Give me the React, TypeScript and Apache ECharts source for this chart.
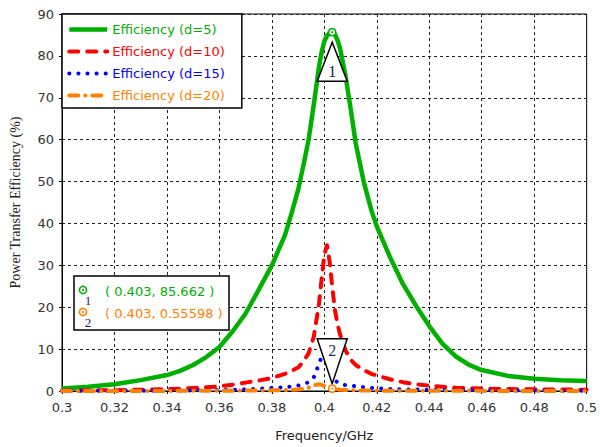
import React, { useEffect, useRef } from "react";
import * as echarts from "echarts";

const freq = [0.3, 0.31, 0.32, 0.33, 0.34, 0.345, 0.35, 0.355, 0.36, 0.365, 0.37, 0.375, 0.38, 0.385, 0.3875, 0.39, 0.392, 0.394, 0.396, 0.398, 0.399, 0.4, 0.401, 0.402, 0.403, 0.404, 0.405, 0.406, 0.408, 0.41, 0.412, 0.415, 0.418, 0.42, 0.425, 0.43, 0.435, 0.44, 0.445, 0.45, 0.455, 0.46, 0.47, 0.48, 0.49, 0.5];
const effD5 = [0.6, 1.0, 1.6, 2.6, 3.8, 4.8, 6.2, 8.1, 10.5, 14.2, 18.5, 24.2, 30, 37.2, 42.4, 48, 53.8, 60, 68.5, 77.5, 81, 83.5, 84.8, 85.5, 85.66, 85.2, 83.8, 81.8, 75.5, 67.5, 59, 50, 43, 39.3, 32, 25.5, 20.3, 15.5, 11.3, 8.3, 6.3, 5.0, 3.6, 2.9, 2.55, 2.4];
const effD10 = [0.1, 0.15, 0.2, 0.3, 0.45, 0.55, 0.7, 0.9, 1.1, 1.5, 2.0, 2.5, 3.1, 4.1, 4.8, 5.6, 7.0, 9, 13, 21, 27, 32.5, 34.8, 31, 25, 19.5, 16, 13.5, 9.8, 7.5, 6.2, 5.0, 4.1, 3.7, 2.8, 2.1, 1.6, 1.3, 1.0, 0.8, 0.7, 0.6, 0.45, 0.4, 0.35, 0.3];
const effD15 = [0.03, 0.04, 0.05, 0.07, 0.1, 0.12, 0.15, 0.2, 0.25, 0.3, 0.4, 0.55, 0.7, 0.9, 1.1, 1.3, 1.6, 2.1, 3.3, 6.5, 8.2, 8.6, 7.5, 5.2, 3.5, 2.6, 2.1, 1.8, 1.4, 1.25, 1.15, 0.9, 0.75, 0.65, 0.5, 0.4, 0.35, 0.3, 0.26, 0.22, 0.19, 0.17, 0.13, 0.1, 0.08, 0.07];
const effD20 = [0.01, 0.01, 0.02, 0.02, 0.03, 0.035, 0.04, 0.05, 0.06, 0.08, 0.1, 0.12, 0.15, 0.2, 0.27, 0.35, 0.5, 0.8, 1.4, 1.6, 1.45, 1.2, 0.9, 0.7, 0.556, 0.45, 0.37, 0.3, 0.25, 0.2, 0.16, 0.12, 0.1, 0.09, 0.07, 0.06, 0.05, 0.04, 0.035, 0.03, 0.03, 0.03, 0.02, 0.02, 0.02, 0.02];

const seriesNames = ["Efficiency (d=5)", "Efficiency (d=10)", "Efficiency (d=15)", "Efficiency (d=20)"];
const seriesColors = ["#00b000", "#ff0000", "#0000ff", "#ff8000"];

const marker1 = [0.403, 85.662];
const marker2 = [0.403, 0.55598];
const markerTexts = ["( 0.403, 85.662 )", "( 0.403, 0.55598 )"];

const xMin = 0.3, xMax = 0.5, xStep = 0.02;
const yMin = 0, yMax = 90, yStep = 10;

const SANS = "'DejaVu Sans', Verdana, sans-serif";
const SERIF = "'Liberation Serif', 'Times New Roman', serif";

export default function App() {
  const ref = useRef<HTMLDivElement>(null);
  useEffect(() => {
    const chart = echarts.init(ref.current!, null, { renderer: "svg" });
    const allData = [effD5, effD10, effD15, effD20];
    const styles: any[] = [
      { width: 4.5, type: "solid" },
      { width: 4, type: [9, 9], cap: "round" },
      { width: 4, type: [0.1, 9], cap: "round" },
      { width: 4, type: [9, 7, 0.1, 7], cap: "round" },
    ];
    const series = allData.map((vals, i) => ({
      name: seriesNames[i],
      type: "line",
      data: freq.map((f, j) => [f, vals[j]]),
      showSymbol: false,
      symbol: "none",
      smooth: false,
      clip: false,
      color: seriesColors[i],
      lineStyle: { color: seriesColors[i], join: "round", ...styles[i] },
      z: 2 + i,
    }));
    chart.setOption({
      animation: false,
      backgroundColor: "#fff",
      grid: { left: 62, right: 11, top: 14, bottom: 56, show: true, borderColor: "#000", borderWidth: 1, backgroundColor: "transparent" },
      legend: {
        orient: "vertical",
        left: 62,
        top: 14,
        padding: [9, 17, 6, 5],
        itemWidth: 38,
        itemHeight: 14,
        itemGap: 9,
        borderColor: "#000",
        borderWidth: 1.5,
        backgroundColor: "#fff",
        itemStyle: { opacity: 0 },
        textStyle: { fontFamily: SANS, fontSize: 13 },
        data: seriesNames.map((n, i) => ({
          name: n,
          textStyle: { color: seriesColors[i] },
          lineStyle: { color: seriesColors[i], width: styles[i].width, type: styles[i].type, cap: styles[i].cap || "butt" },
        })),
        z: 10,
      },
      xAxis: {
        type: "value",
        min: xMin,
        max: xMax,
        interval: xStep,
        name: "Frequency/GHz",
        nameLocation: "middle",
        nameGap: 38,
        nameTextStyle: { fontFamily: SANS, fontSize: 13, color: "#222" },
        axisLine: { show: true, lineStyle: { color: "#000", width: 1 } },
        axisTick: { show: true, length: 3, lineStyle: { color: "#000" } },
        axisLabel: { fontFamily: SANS, fontSize: 13, color: "#333", margin: 10 },
        splitLine: { show: true, lineStyle: { color: "#222", type: [3, 3], width: 1 } },
      },
      yAxis: {
        type: "value",
        min: yMin,
        max: yMax,
        interval: yStep,
        name: "Power Transfer Efficiency (%)",
        nameLocation: "middle",
        nameGap: 40,
        nameTextStyle: { fontFamily: SERIF, fontSize: 14, color: "#222" },
        axisLine: { show: true, lineStyle: { color: "#000", width: 1 } },
        axisTick: { show: true, length: 3, lineStyle: { color: "#000" } },
        axisLabel: { fontFamily: SANS, fontSize: 13, color: "#333", margin: 8 },
        splitLine: { show: true, lineStyle: { color: "#222", type: [3, 3], width: 1 } },
      },
      series,
    });

    const p1 = chart.convertToPixel({ gridIndex: 0 }, marker1) as number[];
    const p2 = chart.convertToPixel({ gridIndex: 0 }, marker2) as number[];
    const markerIcon = (x: number, y: number, color: string) => [
      { type: "circle", shape: { cx: x, cy: y, r: 3.6 }, style: { fill: "#fff", stroke: color, lineWidth: 1.6 }, z: 20 },
      { type: "circle", shape: { cx: x, cy: y, r: 1.1 }, style: { fill: color }, z: 21 },
    ];
    const navy = "#1a1a55";
    chart.setOption({
      graphic: [
        { type: "polygon", shape: { points: [[p1[0], p1[1] + 10], [p1[0] - 15, p1[1] + 49], [p1[0] + 15, p1[1] + 49]] }, style: { fill: "#fff", stroke: "#000", lineWidth: 1.5 }, z: 15 },
        { type: "text", x: p1[0], y: p1[1] + 39, style: { text: "1", font: `16px ${SERIF}`, fill: navy, textAlign: "center", textVerticalAlign: "middle" }, z: 16 },
        { type: "polygon", shape: { points: [[p2[0], p2[1] - 5], [p2[0] - 15, p2[1] - 50], [p2[0] + 15, p2[1] - 50]] }, style: { fill: "#fff", stroke: "#000", lineWidth: 1.5 }, z: 15 },
        { type: "text", x: p2[0], y: p2[1] - 38, style: { text: "2", font: `16px ${SERIF}`, fill: "#2a3550", textAlign: "center", textVerticalAlign: "middle" }, z: 16 },
        ...markerIcon(p1[0], p1[1], seriesColors[0]),
        ...markerIcon(p2[0], p2[1], seriesColors[3]),
        { type: "rect", shape: { x: 74, y: 276, width: 155, height: 54 }, style: { fill: "#fff", stroke: "#000", lineWidth: 1.5 }, z: 30 },
        ...markerIcon(83, 290, seriesColors[0]).map((e) => ({ ...e, z: 31 })),
        ...markerIcon(83, 312, seriesColors[3]).map((e) => ({ ...e, z: 31 })),
        { type: "text", x: 88, y: 300, style: { text: "1", font: `13px ${SERIF}`, fill: navy, textAlign: "center", textVerticalAlign: "middle" }, z: 32 },
        { type: "text", x: 88, y: 322, style: { text: "2", font: `13px ${SERIF}`, fill: navy, textAlign: "center", textVerticalAlign: "middle" }, z: 32 },
        { type: "text", x: 105, y: 291, style: { text: markerTexts[0], font: `13px ${SANS}`, fill: seriesColors[0], textVerticalAlign: "middle" }, z: 32 },
        { type: "text", x: 105, y: 313, style: { text: markerTexts[1], font: `13px ${SANS}`, fill: seriesColors[3], textVerticalAlign: "middle" }, z: 32 },
      ],
    });
    return () => chart.dispose();
  }, []);
  return <div ref={ref} style={{ position: "fixed", left: 0, top: 0, width: 600, height: 447 }} />;
}
